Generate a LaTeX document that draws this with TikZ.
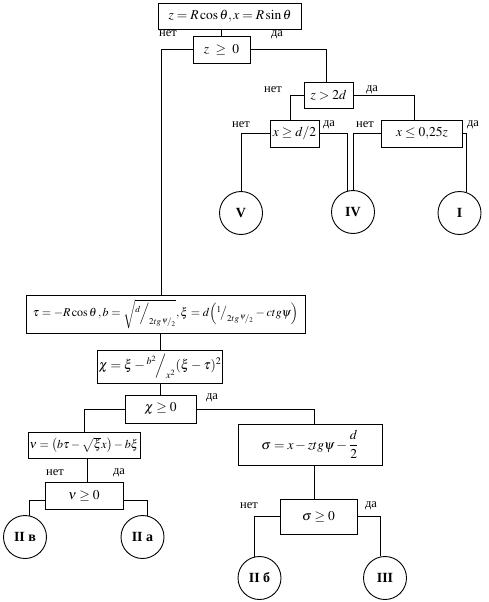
\documentclass[tikz,border=0pt]{standalone}
\usepackage{amsmath}
\usepackage{mathptmx}
\usepackage[no-math]{fontspec}
\setmainfont{Liberation Serif}
\begin{document}
\begin{tikzpicture}[x=1pt, y=-1pt, line width=0.9pt,
                    box/.style={draw, rectangle, inner sep=1pt, font=\fontsize{13.5}{15}\selectfont},
                    res/.style={draw, circle, minimum size=43pt, inner sep=0pt, font=\fontsize{14}{16}\selectfont\bfseries},
                    yesno/.style={font=\fontsize{12.5}{14}\selectfont, inner sep=0pt}]

  \useasboundingbox (0,0) rectangle (488,602);

  % upper part
  \node[box, minimum width=143pt, minimum height=26pt] (zr) at (230,16) {$z = R\cos\theta, x = R\sin\theta$};
  \node[box, minimum width=57pt, minimum height=27pt] (zg) at (221.5,49.5) {$z\ \geq\ 0$};
  \node[box, minimum width=49pt, minimum height=26pt] (zd) at (328.5,95) {$z > 2d$};
  \node[box, minimum width=49pt, minimum height=27pt] (xd) at (294.5,133.5) {$x \geq d/2$};
  \node[box, minimum width=81pt, minimum height=27pt] (xz) at (422,133.5) {$x \leq 0{,}25z$};

  \node[res] (V) at (241,213) {V};
  \node[res] (IV) at (353,212) {IV};
  \node[res] (I) at (459.5,213) {I};

  % lower part
  \node[box, minimum width=279pt, minimum height=38pt, font=\fontsize{12}{14}\selectfont] (tau) at (165.5,314)
    {$\tau = -R\cos\theta\,, b = \sqrt{{}^{d}\!\Big/_{2tg\,{}^{\psi}\!/_{2}}}, \xi = d\Bigl({}^{1}\!\big/_{2tg\,{}^{\psi}\!/_{2}} - ctg\psi\Bigr)$};
  \node[box, minimum width=125pt, minimum height=33pt] (chi) at (160,366.5)
    {$\chi = \xi - {}^{b^2}\!\Big/_{x^2}(\xi - \tau)^2$};
  \node[box, minimum width=71pt, minimum height=28pt] (chg) at (160.5,409) {$\chi \geq 0$};
  \node[box, minimum width=112pt, minimum height=26pt, font=\fontsize{12}{14}\selectfont] (nu) at (84,445)
    {$\nu = \bigl(b\tau - \sqrt{\xi}x\bigr) - b\xi$};
  \node[box, minimum width=78pt, minimum height=27pt] (nug) at (84,496) {$\nu \geq 0$};
  \node[box, minimum width=144pt, minimum height=41pt] (sig) at (310,444.5)
    {$\sigma = x - ztg\psi - \dfrac{d}{2}$};
  \node[box, minimum width=77pt, minimum height=35pt] (sgg) at (318.5,516.5) {$\sigma \geq 0$};

  \node[res] (IIv) at (25,537) {II в};
  \node[res] (IIa) at (142.5,537) {II а};
  \node[res] (IIb) at (259.5,578) {II б};
  \node[res] (III) at (385,578) {III};

  % connectors
  \draw (zg.north) -- (zg.north |- zr.south);
  \draw (zg.west) -| ([xshift=-4.5pt]tau.north);
  \draw (zg.east) -| ([xshift=-2.5pt]zd.north);
  \draw (zd.west) -| ([xshift=-4pt]xd.north);
  \draw (zd.east) -| ([xshift=-8pt]xz.north);
  \draw (xd.west) -| (V.north);
  \draw (xd.east) -| (IV.106);
  \draw (xz.west) -| (IV.north);
  \draw (xz.east) -| (I.72);

  \draw (chi.north) -- (chi.north |- tau.south);
  \draw (chg.north) -- (chg.north |- chi.south);
  \draw (chg.west) -| (nu.north);
  \draw (chg.east) -| ([xshift=4pt]sig.north);
  \draw ([xshift=3pt]nug.north) -- ([xshift=3pt]nug.north |- nu.south);
  \draw ([yshift=-4pt]nug.west) -| (IIv.78);
  \draw ([yshift=-4pt]nug.east) -| (IIa.78);
  \draw ([xshift=-4.5pt]sgg.north) -- ([xshift=-4.5pt]sgg.north |- sig.south);
  \draw (sgg.west) -| (IIb.102);
  \draw (sgg.east) -| (III.101);

  % labels
  \node[yesno] (n1) at (168,34) {нет};
  \node[yesno] (y1) at (277,35) {да};
  \node[yesno] (n2) at (273,90) {нет};
  \node[yesno] (y2) at (372,90) {да};
  \node[yesno] (n3) at (241,125) {нет};
  \node[yesno] (y3) at (329,125) {да};
  \node[yesno] (n4) at (365,125) {нет};
  \node[yesno] (y4) at (473,125) {да};
  \node[yesno] (y5) at (212,398) {да};
  \node[yesno] (n6) at (55,473) {нет};
  \node[yesno] (y6) at (119,473) {да};
  \node[yesno] (n7) at (249,506) {нет};
  \node[yesno] (y7) at (371,506) {да};

\end{tikzpicture}
\end{document}
